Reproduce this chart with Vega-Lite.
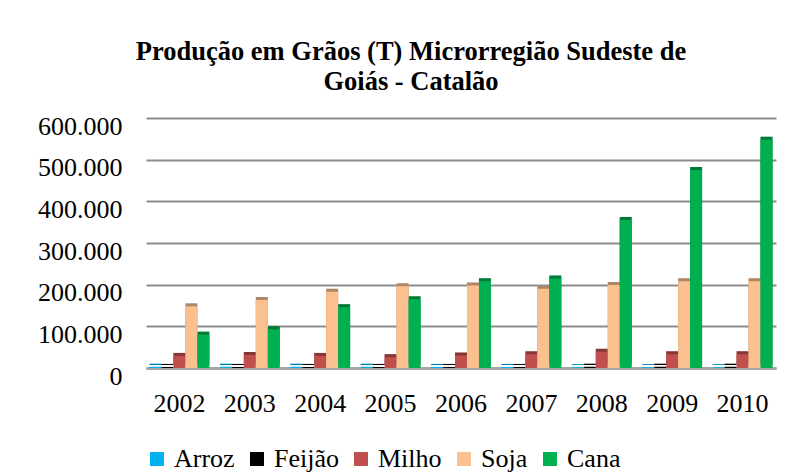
{
  "$schema": "https://vega.github.io/schema/vega-lite/v6.json",
  "width": 630,
  "height": 250,
  "autosize": {"type": "none"},
  "padding": {"left": 146, "top": 118, "right": 22, "bottom": 107},
  "background": "white",
  "config": {
    "font": "Liberation Serif",
    "view": {"stroke": null},
    "locale": {"number": {"decimal": ",", "thousands": ".", "grouping": [3], "currency": ["R$", ""]}},
    "legend": {
      "title": null,
      "orient": "none",
      "direction": "horizontal",
      "gridAlign": "none",
      "legendX": -2,
      "legendY": 328,
      "symbolType": "square",
      "symbolSize": 196,
      "symbolStrokeWidth": 0,
      "symbolOpacity": 1,
      "labelFont": "Liberation Serif",
      "labelFontSize": 26,
      "labelColor": "black",
      "labelOffset": 4,
      "columnPadding": 9,
      "labelLimit": 300
    }
  },
  "title": {
    "text": ["Produção em Grãos (T) Microrregião Sudeste de", "Goiás - Catalão"],
    "font": "Liberation Serif",
    "fontSize": 26.5,
    "fontWeight": "bold",
    "color": "black",
    "anchor": "middle",
    "dx": -50,
    "lineHeight": 30,
    "offset": 18
  },
  "data": {
    "values": [
      {"ano": "2002", "cultura": "Arroz", "t": 3000},
      {"ano": "2002", "cultura": "Feijão", "t": 2500},
      {"ano": "2002", "cultura": "Milho", "t": 29000},
      {"ano": "2002", "cultura": "Soja", "t": 148000},
      {"ano": "2002", "cultura": "Cana", "t": 80000},
      {"ano": "2003", "cultura": "Arroz", "t": 3000},
      {"ano": "2003", "cultura": "Feijão", "t": 2500},
      {"ano": "2003", "cultura": "Milho", "t": 31000},
      {"ano": "2003", "cultura": "Soja", "t": 163000},
      {"ano": "2003", "cultura": "Cana", "t": 93000},
      {"ano": "2004", "cultura": "Arroz", "t": 3000},
      {"ano": "2004", "cultura": "Feijão", "t": 2500},
      {"ano": "2004", "cultura": "Milho", "t": 29000},
      {"ano": "2004", "cultura": "Soja", "t": 183000},
      {"ano": "2004", "cultura": "Cana", "t": 146000},
      {"ano": "2005", "cultura": "Arroz", "t": 3000},
      {"ano": "2005", "cultura": "Feijão", "t": 2500},
      {"ano": "2005", "cultura": "Milho", "t": 26000},
      {"ano": "2005", "cultura": "Soja", "t": 196000},
      {"ano": "2005", "cultura": "Cana", "t": 165000},
      {"ano": "2006", "cultura": "Arroz", "t": 2500},
      {"ano": "2006", "cultura": "Feijão", "t": 2500},
      {"ano": "2006", "cultura": "Milho", "t": 30000},
      {"ano": "2006", "cultura": "Soja", "t": 198000},
      {"ano": "2006", "cultura": "Cana", "t": 208000},
      {"ano": "2007", "cultura": "Arroz", "t": 2500},
      {"ano": "2007", "cultura": "Feijão", "t": 2500},
      {"ano": "2007", "cultura": "Milho", "t": 33000},
      {"ano": "2007", "cultura": "Soja", "t": 190000},
      {"ano": "2007", "cultura": "Cana", "t": 215000},
      {"ano": "2008", "cultura": "Arroz", "t": 2000},
      {"ano": "2008", "cultura": "Feijão", "t": 3000},
      {"ano": "2008", "cultura": "Milho", "t": 39000},
      {"ano": "2008", "cultura": "Soja", "t": 199000},
      {"ano": "2008", "cultura": "Cana", "t": 355000},
      {"ano": "2009", "cultura": "Arroz", "t": 2000},
      {"ano": "2009", "cultura": "Feijão", "t": 3000},
      {"ano": "2009", "cultura": "Milho", "t": 33000},
      {"ano": "2009", "cultura": "Soja", "t": 208000},
      {"ano": "2009", "cultura": "Cana", "t": 475000},
      {"ano": "2010", "cultura": "Arroz", "t": 2000},
      {"ano": "2010", "cultura": "Feijão", "t": 3000},
      {"ano": "2010", "cultura": "Milho", "t": 33000},
      {"ano": "2010", "cultura": "Soja", "t": 208000},
      {"ano": "2010", "cultura": "Cana", "t": 548000}
    ]
  },
  "encoding": {
    "x": {
      "field": "ano",
      "type": "nominal",
      "scale": {"paddingInner": 0.15, "paddingOuter": 0.05},
      "axis": {
        "title": null,
        "labelAngle": 0,
        "labelFont": "Liberation Serif",
        "labelFontSize": 26,
        "labelColor": "black",
        "labelPadding": 22,
        "ticks": false,
        "domainColor": "#a6a6a6",
        "domainWidth": 3
      }
    },
    "xOffset": {
      "field": "cultura",
      "type": "nominal",
      "sort": ["Arroz", "Feijão", "Milho", "Soja", "Cana"],
      "scale": {"paddingInner": 0, "paddingOuter": 0}
    },
    "y": {
      "field": "t",
      "type": "quantitative",
      "scale": {"domain": [0, 600000]},
      "axis": {
        "title": null,
        "values": [0, 100000, 200000, 300000, 400000, 500000, 600000],
        "format": ",d",
        "labelFont": "Liberation Serif",
        "labelFontSize": 26,
        "labelColor": "black",
        "labelPadding": 24,
        "labelOffset": 8,
        "ticks": false,
        "domain": false,
        "grid": true,
        "gridColor": "#8c8c8c",
        "gridWidth": 2
      }
    }
  },
  "layer": [
    {
      "mark": {"type": "bar", "xOffset": 3, "yOffset": -3},
      "encoding": {
        "color": {
          "field": "cultura",
          "type": "nominal",
          "sort": ["Arroz", "Feijão", "Milho", "Soja", "Cana"],
          "scale": {
            "domain": ["Arroz", "Feijão", "Milho", "Soja", "Cana"],
            "range": ["#00B0F0", "#000000", "#C0504D", "#FAC090", "#00B050"]
          }
        }
      }
    },
    {
      "mark": {"type": "bar", "xOffset": 3, "yOffset": -3, "opacity": 0.3},
      "encoding": {"color": {"value": "black"}}
    },
    {
      "mark": {"type": "bar"},
      "encoding": {
        "color": {
          "field": "cultura",
          "type": "nominal",
          "sort": ["Arroz", "Feijão", "Milho", "Soja", "Cana"],
          "scale": {
            "domain": ["Arroz", "Feijão", "Milho", "Soja", "Cana"],
            "range": ["#00B0F0", "#000000", "#C0504D", "#FAC090", "#00B050"]
          }
        }
      }
    }
  ]
}
